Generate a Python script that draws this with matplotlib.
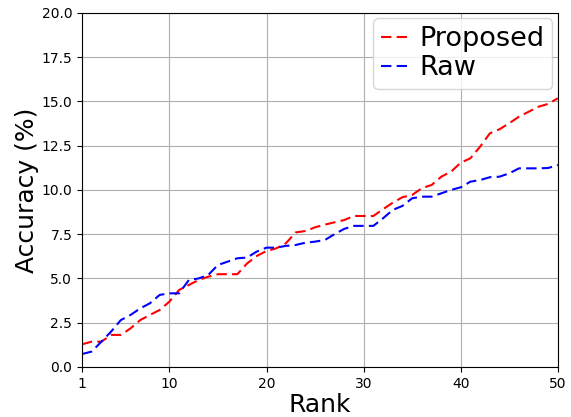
import matplotlib
matplotlib.use('Agg')
import matplotlib.pyplot as plt

rank = list(range(1, 51))
proposed = [1.28, 1.43, 1.43, 1.81, 1.81, 2.18, 2.65, 2.94, 3.22, 3.69,
            4.35, 4.63, 4.91, 5.10, 5.24, 5.24, 5.24, 5.85, 6.27, 6.55,
            6.70, 6.99, 7.60, 7.68, 7.89, 8.04, 8.17, 8.30, 8.53, 8.53,
            8.53, 8.91, 9.28, 9.59, 9.72, 10.10, 10.28, 10.75, 11.03, 11.54,
            11.79, 12.45, 13.20, 13.43, 13.77, 14.14, 14.42, 14.70, 14.86, 15.18]
raw = [0.73, 0.87, 1.43, 2.00, 2.65, 2.94, 3.31, 3.60, 4.07, 4.16,
       4.16, 4.91, 5.00, 5.20, 5.76, 5.95, 6.14, 6.18, 6.52, 6.74,
       6.74, 6.84, 6.89, 7.02, 7.08, 7.17, 7.50, 7.80, 7.97, 7.97,
       7.97, 8.40, 8.87, 9.10, 9.53, 9.62, 9.62, 9.81, 10.00, 10.15,
       10.47, 10.56, 10.72, 10.75, 10.94, 11.22, 11.22, 11.22, 11.24, 11.41]

fig = plt.figure(figsize=(5.71, 4.17), dpi=100)
ax = fig.add_axes([0.1436, 0.12, 0.8334, 0.849])
ax.plot(rank, proposed, 'r--', linewidth=1.5, dashes=(5, 2.5), label='Proposed')
ax.plot(rank, raw, 'b--', linewidth=1.5, dashes=(5, 2.5), label='Raw')
ax.set_xlim(1, 50)
ax.set_ylim(0, 20)
ax.set_xticks([1, 10, 20, 30, 40, 50])
ax.set_yticks([0, 2.5, 5, 7.5, 10, 12.5, 15, 17.5, 20])
ax.grid(True)
ax.set_xlabel('Rank', fontsize=18, labelpad=2)
ax.set_ylabel('Accuracy (%)', fontsize=18, labelpad=2)
ax.legend(fontsize=19.5, loc='upper right', handlelength=1.0, handletextpad=0.4,
          borderaxespad=0.2, borderpad=0.3, labelspacing=0.1)
fig.savefig('out.png', dpi=100)
